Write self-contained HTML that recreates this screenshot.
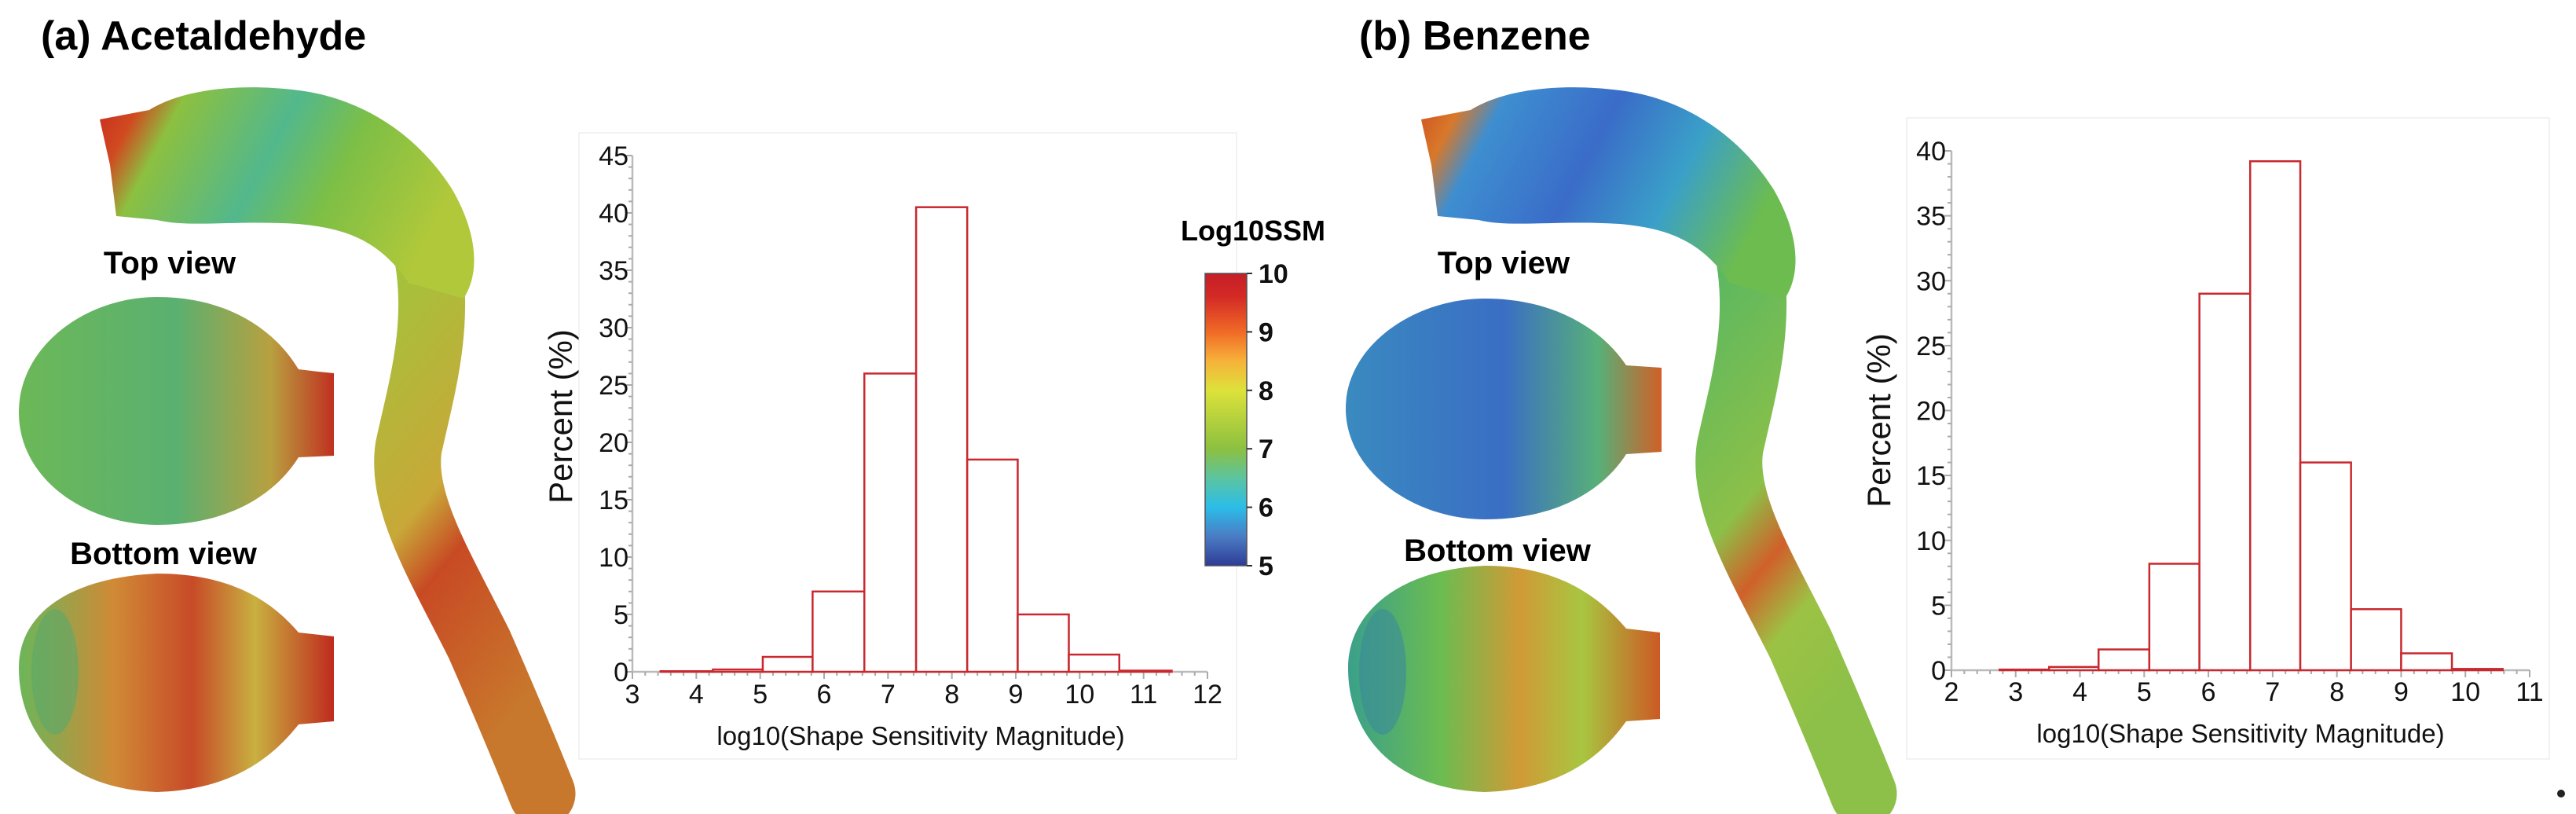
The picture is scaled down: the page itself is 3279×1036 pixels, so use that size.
<!DOCTYPE html>
<html><head><meta charset="utf-8"><style>
html,body{margin:0;padding:0;background:#fff;}
svg{display:block;}
text{font-family:"Liberation Sans",sans-serif;}
</style></head><body>
<svg id="fig" width="3279" height="1036" viewBox="0 0 3279 1036" xmlns="http://www.w3.org/2000/svg">
<defs>
<linearGradient id="gA1" x1="0" y1="0" x2="1" y2="0.3">
<stop offset="0" stop-color="#c8281e"/><stop offset="0.12" stop-color="#d04a20"/><stop offset="0.22" stop-color="#8cc040"/><stop offset="0.5" stop-color="#52b88c"/><stop offset="0.7" stop-color="#7dbf46"/><stop offset="1" stop-color="#b0c83a"/></linearGradient>
<linearGradient id="gA2" x1="0" y1="0" x2="0.3" y2="1">
<stop offset="0" stop-color="#a4c23c"/><stop offset="0.45" stop-color="#c8a838"/><stop offset="0.6" stop-color="#c84a24"/><stop offset="1" stop-color="#c8782c"/></linearGradient>
<linearGradient id="gA3" x1="0" y1="0" x2="1" y2="0">
<stop offset="0" stop-color="#6cb858"/><stop offset="0.5" stop-color="#5ab070"/><stop offset="0.8" stop-color="#b8a040"/><stop offset="1" stop-color="#c03020"/></linearGradient>
<linearGradient id="gA4" x1="0" y1="0" x2="1" y2="0">
<stop offset="0" stop-color="#6cb65a"/><stop offset="0.3" stop-color="#d08a36"/><stop offset="0.55" stop-color="#c84a28"/><stop offset="0.75" stop-color="#c8b040"/><stop offset="1" stop-color="#c02a1e"/></linearGradient>
<linearGradient id="gB1" x1="0" y1="0" x2="1" y2="0.3">
<stop offset="0" stop-color="#d04a20"/><stop offset="0.12" stop-color="#d8782a"/><stop offset="0.22" stop-color="#3e8ed0"/><stop offset="0.5" stop-color="#3a6cc8"/><stop offset="0.75" stop-color="#3aa0c8"/><stop offset="1" stop-color="#6cbc50"/></linearGradient>
<linearGradient id="gB2" x1="0" y1="0" x2="0.3" y2="1">
<stop offset="0" stop-color="#5cb860"/><stop offset="0.45" stop-color="#8cc048"/><stop offset="0.6" stop-color="#d0602a"/><stop offset="0.75" stop-color="#9cc244"/><stop offset="1" stop-color="#8cc048"/></linearGradient>
<linearGradient id="gB3" x1="0" y1="0" x2="1" y2="0">
<stop offset="0" stop-color="#3a8ac0"/><stop offset="0.5" stop-color="#3a6ec4"/><stop offset="0.8" stop-color="#58b078"/><stop offset="1" stop-color="#d06028"/></linearGradient>
<linearGradient id="gB4" x1="0" y1="0" x2="1" y2="0">
<stop offset="0" stop-color="#3aa08a"/><stop offset="0.3" stop-color="#6cbc50"/><stop offset="0.55" stop-color="#d09a36"/><stop offset="0.75" stop-color="#a8c640"/><stop offset="1" stop-color="#cc5a24"/></linearGradient>
<linearGradient id="cbar" x1="0" y1="1" x2="0" y2="0">
<stop offset="0" stop-color="#2e3c96"/><stop offset="0.1" stop-color="#4a7cc4"/><stop offset="0.2" stop-color="#2bbde8"/><stop offset="0.3" stop-color="#5cc4a0"/><stop offset="0.4" stop-color="#8cc040"/><stop offset="0.6" stop-color="#dde23a"/><stop offset="0.7" stop-color="#f7b23a"/><stop offset="0.8" stop-color="#f06a26"/><stop offset="0.92" stop-color="#d42a26"/><stop offset="1" stop-color="#c41e28"/></linearGradient>
</defs>

<text x="52" y="63" font-size="52" font-weight="bold">(a) Acetaldehyde</text>
<text x="1730" y="63" font-size="52" font-weight="bold">(b) Benzene</text>

<g>
<path d="M545,330 C560,420 535,500 520,570 C510,640 560,720 610,820 C645,900 670,960 690,1010" stroke="url(#gA2)" stroke-width="85" fill="none" stroke-linecap="round"/>
<path d="M127,152 L190,140 C230,115 300,105 380,115 C460,125 530,170 575,240 C610,300 610,350 590,380 L520,360 C480,300 430,290 380,285 C300,280 240,290 200,280 L148,275 L140,210 Z" fill="url(#gA1)"/>
</g>
<g>
<path d="M24,525 C24,440 110,378 200,378 C290,378 350,420 380,470 L405,473 L425,475 L425,580 L380,582 C350,630 290,668 200,668 C110,668 24,610 24,525 Z" fill="url(#gA3)"/>
</g>
<g>
<path d="M24,850 C24,780 90,735 200,730 C300,730 350,770 380,805 L425,810 L425,918 L380,922 C350,960 300,1005 200,1008 C90,1005 24,940 24,850 Z" fill="url(#gA4)"/>
<ellipse cx="70" cy="855" rx="30" ry="80" fill="#5aa86a" opacity="0.6"/>
</g>
<text x="216" y="348" font-size="40" font-weight="bold" text-anchor="middle">Top view</text>
<text x="208" y="718" font-size="40" font-weight="bold" text-anchor="middle">Bottom view</text>

<g>
<path d="M2227,330 C2242,420 2217,500 2202,570 C2192,640 2242,720 2292,820 C2327,900 2352,960 2372,1010" stroke="url(#gB2)" stroke-width="85" fill="none" stroke-linecap="round"/>
<path d="M1809,152 L1872,140 C1912,115 1982,105 2062,115 C2142,125 2212,170 2257,240 C2292,300 2292,350 2272,380 L2202,360 C2162,300 2112,290 2062,285 C1982,280 1922,290 1882,280 L1830,275 L1822,210 Z" fill="url(#gB1)"/>
</g>
<g>
<path d="M1713,520 C1713,440 1800,380 1890,380 C1980,380 2040,420 2070,465 L2115,468 L2115,575 L2070,578 C2040,625 1980,661 1890,661 C1800,661 1713,600 1713,520 Z" fill="url(#gB3)"/>
</g>
<g>
<path d="M1716,850 C1716,780 1780,725 1890,720 C1990,720 2040,765 2070,800 L2113,805 L2113,915 L2070,918 C2040,960 1990,1005 1890,1008 C1780,1005 1716,940 1716,850 Z" fill="url(#gB4)"/>
<ellipse cx="1760" cy="855" rx="30" ry="80" fill="#3a8a9a" opacity="0.6"/>
</g>
<text x="1914" y="348" font-size="40" font-weight="bold" text-anchor="middle">Top view</text>
<text x="1906" y="714" font-size="40" font-weight="bold" text-anchor="middle">Bottom view</text>

<rect x="737" y="169" width="837" height="797" fill="#fff" stroke="#eee" stroke-width="1.5"/>
<rect x="2427" y="150" width="818" height="816" fill="#fff" stroke="#eee" stroke-width="1.5"/>

<g>
<text x="1595" y="306" font-size="36" font-weight="bold" text-anchor="middle">Log10SSM</text>
<rect x="1534" y="348" width="53" height="372" fill="url(#cbar)" stroke="#555" stroke-width="1.5"/>
<g id="cbticks"></g>
</g>

<g id="chartA"></g>
<g id="chartB"></g>

<circle cx="3260" cy="1010" r="5" fill="#222"/>
</svg>
<script>
const NS = "http://www.w3.org/2000/svg";
// Chart A data
const edgesA = [3.44, 4.26, 5.04, 5.82, 6.63, 7.44, 8.24, 9.03, 9.83, 10.62, 11.44];
const valuesA = [0.05, 0.2, 1.3, 7, 26, 40.5, 18.5, 5, 1.5, 0.1];
const xTicksA = [3,4,5,6,7,8,9,10,11,12];
const yTicksA = [0,5,10,15,20,25,30,35,40,45];
// Chart B data
const edgesB = [2.75, 3.52, 4.29, 5.08, 5.86, 6.65, 7.43, 8.22, 9.0, 9.79, 10.58];
const valuesB = [0.05, 0.25, 1.6, 8.2, 29, 39.2, 16, 4.7, 1.3, 0.1];
const xTicksB = [2,3,4,5,6,7,8,9,10,11];
const yTicksB = [0,5,10,15,20,25,30,35,40];
// Colorbar ticks
const cbTicks = [5,6,7,8,9,10];

function mk(tag, attrs, parent){
  const e = document.createElementNS(NS, tag);
  for (const k in attrs) e.setAttribute(k, attrs[k]);
  parent.appendChild(e);
  return e;
}

function drawChart(g, cfg, edges, values, xTicks, yTicks, prefix){
  const xs = v => cfg.x0 + (v - cfg.xmin) / (cfg.xmax - cfg.xmin) * (cfg.x1 - cfg.x0);
  const ys = v => cfg.y0 - (v - cfg.ymin) / (cfg.ymax - cfg.ymin) * (cfg.y0 - cfg.y1);
  const xmin = xTicks[0], xmax = xTicks[xTicks.length-1];
  const ymax = yTicks[yTicks.length-1];
  const ax = mk('line', {x1: xs(xmin), y1: ys(0), x2: xs(xmax), y2: ys(0), stroke:'#bbb', 'stroke-width':2.5}, g);
  
  
  const ay = mk('line', {x1: xs(xmin), y1: ys(0), x2: xs(xmin), y2: ys(ymax), stroke:'#bbb', 'stroke-width':2.5}, g);
  
  
  for (let v = xmin; v <= xmax + 1e-6; v += 0.2) {
    const major = Math.abs(v - Math.round(v)) < 1e-6;
    mk('line', {x1: xs(v), y1: ys(0), x2: xs(v), y2: ys(0) + (major ? 9 : 5), stroke:'#aaa', 'stroke-width':2}, g);
  }
  for (let v = 0; v <= ymax; v += 1) {
    const major = v % 5 === 0;
    mk('line', {x1: xs(xmin), y1: ys(v), x2: xs(xmin) - (major ? 9 : 5), y2: ys(v), stroke:'#aaa', 'stroke-width':2}, g);
  }
  xTicks.forEach(t => {
    const tx = mk('text', {x: xs(t), y: cfg.xLabelY, 'font-size': 34, 'text-anchor':'middle', fill:'#111'}, g);
    tx.textContent = t;
    
    
  });
  yTicks.forEach(t => {
    const ty = mk('text', {x: cfg.yLabelX, y: ys(t) + 12, 'font-size': 34, 'text-anchor':'end', fill:'#111'}, g);
    ty.textContent = t;
    
    
  });
  values.forEach((v, i) => {
    const x0 = xs(edges[i]), x1 = xs(edges[i+1]);
    const r = mk('rect', {x: x0, y: ys(v), width: x1 - x0, height: ys(0) - ys(v), fill:'#fff', stroke:'#c8282e', 'stroke-width':2.5}, g);
    
    
  });
  const xt = mk('text', {x: cfg.xTitleX, y: cfg.xTitleY, 'font-size': 33, 'text-anchor':'middle', fill:'#111'}, g);
  xt.textContent = 'log10(Shape Sensitivity Magnitude)';
  
  
  const yt = mk('text', {x: cfg.yTitleX, y: cfg.yTitleY, 'font-size': 42, 'text-anchor':'middle', fill:'#111', transform: 'rotate(-90 ' + cfg.yTitleX + ' ' + cfg.yTitleY + ')'}, g);
  yt.textContent = 'Percent (%)';
  
  
}

drawChart(document.getElementById('chartA'),
  {x0:805, x1:1537, xmin:3, xmax:12, y0:855, y1:198, ymin:0, ymax:45, xLabelY:895, yLabelX:800, xTitleX:1172, xTitleY:948, yTitleX:728, yTitleY:530},
  edgesA, valuesA, xTicksA, yTicksA, 'chart-a');
drawChart(document.getElementById('chartB'),
  {x0:2484, x1:3220, xmin:2, xmax:11, y0:853, y1:192, ymin:0, ymax:40, xLabelY:892, yLabelX:2477, xTitleX:2852, xTitleY:945, yTitleX:2406, yTitleY:535},
  edgesB, valuesB, xTicksB, yTicksB, 'chart-b');

const cb = document.getElementById('cbticks');
const cbY = v => 720 - (v - 5) / 5 * 372;
cbTicks.forEach(t => {
  mk('line', {x1:1587, y1:cbY(t), x2:1594, y2:cbY(t), stroke:'#333', 'stroke-width':2}, cb);
  const tt = mk('text', {x:1602, y:cbY(t) + 12, 'font-size':34, 'font-weight':'bold', fill:'#111'}, cb);
  tt.textContent = t;
  
  
});
</script>
</body></html>
